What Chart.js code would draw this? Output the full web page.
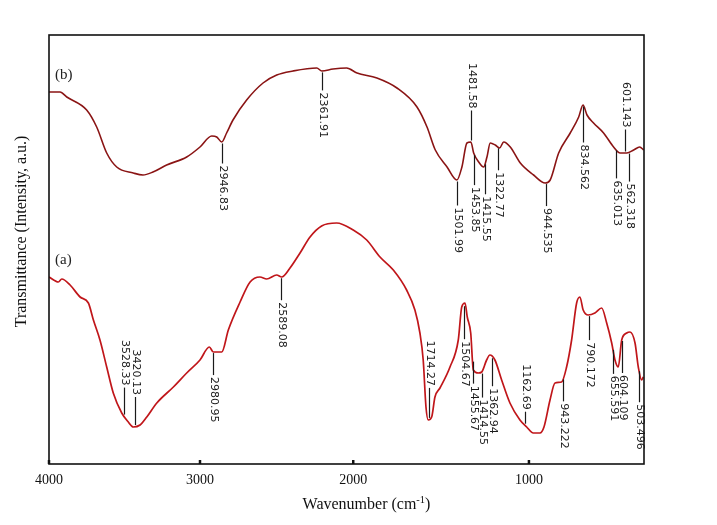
<!DOCTYPE html>
<html>
<head>
<meta charset="utf-8">
<script src="https://cdn.jsdelivr.net/npm/chart.js@4.4.1/dist/chart.umd.min.js"></script>
<style>
  html, body { margin: 0; padding: 0; background: #fff; }
  #wrap { width: 717px; height: 525px; }
</style>
</head>
<body>
<div id="wrap"><canvas id="ftir" width="717" height="525"></canvas></div>
<script>
// FT-IR spectra: wavenumber (cm-1) / transmittance (a.u.)
const waveB = [3918, 3854, 3815, 3700, 3642, 3584, 3526, 3430, 3374, 3316, 3237, 3121, 3044, 2976, 2947,
  2918, 2890, 2853, 2774, 2679, 2600, 2506, 2368, 2339, 2274, 2195, 2135, 2020, 1904, 1788, 1730, 1682,
  1614, 1557, 1528, 1499, 1476, 1460, 1431, 1402, 1383, 1364, 1335, 1310, 1286, 1248, 1190, 1113, 1046,
  1017, 968, 901, 852, 827, 804, 766, 708, 650, 612, 573, 534, 499, 476];
const transB = [372, 372, 367, 354, 337, 311, 297, 291, 289, 292, 299, 307, 317, 328, 327,
  322, 331, 344, 364, 381, 389, 393, 396, 393, 395, 396, 391, 386, 376, 357, 337, 314,
  297, 284, 297, 321, 322, 311, 302, 297, 307, 321, 319, 316, 322, 317, 301, 289, 281,
  284, 311, 331, 347, 359, 349, 341, 331, 317, 311, 311, 314, 317, 314];

const waveA = [3918, 3864, 3844, 3796, 3738, 3690, 3661, 3623, 3584, 3546, 3497, 3459, 3430, 3391, 3352,
  3294, 3198, 3121, 3044, 2990, 2967, 2918, 2880, 2812, 2754, 2697, 2658, 2600, 2571, 2523, 2465, 2407,
  2340, 2253, 2157, 2079, 2002, 1925, 1848, 1800, 1771, 1752, 1736, 1723, 1703, 1684, 1655, 1597, 1549,
  1529, 1510, 1497, 1477, 1462, 1433, 1413, 1385, 1366, 1337, 1298, 1250, 1192, 1153, 1115, 1076, 1053,
  1018, 989, 951, 922, 893, 864, 845, 826, 797, 758, 719, 690, 661, 642, 623, 603, 574, 555, 526, 507, 488, 478];
const transA = [187, 182, 185, 179, 167, 161, 144, 124, 97, 71, 51, 42, 37, 39, 47,
  61, 77, 91, 104, 117, 112, 112, 134, 162, 182, 187, 185, 189, 187, 196, 211, 227,
  238, 241, 234, 224, 207, 194, 174, 154, 131, 104, 57, 44, 47, 67, 76, 97, 124,
  157, 161, 147, 131, 94, 91, 92, 104, 109, 104, 84, 61, 44, 37, 31, 31, 37,
  64, 81, 82, 97, 124, 161, 167, 154, 149, 151, 156, 141, 121, 104, 97, 124, 131, 132, 121, 97, 84, 87];

const seriesNames = ['(b)', '(a)'];

// peak marks: [label, wavenumber where the mark sits, label side]
const peaksB = [
  ['2946.83', 2918, 'down'], ['2361.91', 2340, 'down'], ['1481.58', 1476, 'up'],
  ['1501.99', 1557, 'down'], ['1453.85', 1458, 'down'], ['1415.55', 1394, 'down'],
  ['1322.77', 1320, 'down'], ['944.535', 1042, 'down'], ['834.562', 827, 'down'],
  ['601.143', 584, 'up'], ['635.013', 638, 'down'], ['562.318', 561, 'down'],
];
const peaksA = [
  ['3528.33', 3484, 'up'], ['3420.13', 3420, 'up'], ['2980.95', 2969, 'down'],
  ['2589.08', 2575, 'down'], ['1714.27', 1719, 'up'], ['1504.67', 1518, 'down'],
  ['1455.67', 1466, 'down'], ['1414.55', 1414, 'down'], ['1362.94', 1356, 'down'],
  ['1162.69', 1163, 'up'], ['943.222', 943, 'down'], ['790.172', 790, 'down'],
  ['655.591', 655, 'down'], ['604.109', 601, 'down'], ['503.496', 503, 'down'],
];

// axis labels as printed, and where they sit on the wavenumber scale
const tickLabels = ['4000', '3000', '2000', '1000'];
const tickAt = [3918, 3044, 2157, 1140];

// leader line lengths (px) that differ from the default
const LEADS = {
  '2946.83': 20, '2361.91': 18, '1481.58': 30, '1501.99': 24, '1453.85': 30, '1415.55': 30,
  '834.562': 36, '635.013': 28, '562.318': 28, '3528.33': 27, '3420.13': 28, '1714.27': 30,
  '1504.67': 33, '1414.55': 24, '1362.94': 28, '1162.69': 12, '790.172': 24, '655.591': 24,
  '604.109': 32, '503.496': 31,
};
const SERIF = '"Liberation Serif", "DejaVu Serif", serif';

function valueAt(ws, ts, w) {
  for (let i = 0; i < ws.length - 1; i++) {
    if (w <= ws[i] && w >= ws[i + 1]) {
      const f = (ws[i] - w) / (ws[i] - ws[i + 1]);
      return ts[i] + f * (ts[i + 1] - ts[i]);
    }
  }
  return ts[ts.length - 1];
}

const decor = {
  id: 'ftirDecor',
  afterDatasetsDraw(chart) {
    const { ctx: c, chartArea: { left, right, top, bottom }, scales: { x, y } } = chart;
    c.save();

    // frame + inward ticks
    c.strokeStyle = '#111';
    c.lineWidth = 1.6;
    c.strokeRect(left, top, right - left, bottom - top);
    c.lineWidth = 2.5;
    tickAt.forEach(v => {
      const px = x.getPixelForValue(v);
      c.beginPath();
      c.moveTo(px, bottom);
      c.lineTo(px, bottom - 4);
      c.stroke();
    });

    // peak marks
    c.font = '11px "DejaVu Sans", sans-serif';
    c.fillStyle = '#1a1a1a';
    c.strokeStyle = '#1a1a1a';
    c.lineWidth = 1.2;
    const marks = (peaks, ws, ts) => peaks.forEach(([label, w, side]) => {
      const px = Math.round(x.getPixelForValue(w)) + 0.5;
      const py = y.getPixelForValue(valueAt(ws, ts, w));
      const dir = side === 'up' ? -1 : 1;
      const lead = LEADS[label] ?? 22;
      const y0 = py + dir * 1.5;
      const y1 = y0 + dir * lead;
      c.beginPath();
      c.moveTo(px, y0);
      c.lineTo(px, y1);
      c.stroke();
      c.save();
      c.translate(px, y1 + dir * 2);
      c.rotate(Math.PI / 2);
      c.textAlign = side === 'up' ? 'right' : 'left';
      c.textBaseline = 'middle';
      c.fillText(label, 0, 0);
      c.restore();
    });
    marks(peaksB, waveB, transB);
    marks(peaksA, waveA, transA);

    // series tags
    c.font = '15px ' + SERIF;
    c.fillStyle = '#222';
    c.textAlign = 'left';
    c.textBaseline = 'middle';
    c.fillText(seriesNames[0], left + 6, y.getPixelForValue(transB[0]) - 17);
    c.fillText(seriesNames[1], left + 6, y.getPixelForValue(transA[0]) - 17);

    // x title with superscript
    const base = 'Wavenumber (cm';
    c.font = '16px ' + SERIF;
    const wBase = c.measureText(base).width;
    c.font = '10.5px ' + SERIF;
    const wSup = c.measureText('-1').width;
    c.font = '16px ' + SERIF;
    const wEnd = c.measureText(')').width;
    let tx = (left + right) / 2 + 20 - (wBase + wSup + wEnd) / 2;
    const ty = bottom + 41;
    c.fillStyle = '#111';
    c.fillText(base, tx, ty);
    tx += wBase;
    c.font = '10.5px ' + SERIF;
    c.fillText('-1', tx, ty - 5);
    tx += wSup;
    c.font = '16px ' + SERIF;
    c.fillText(')', tx, ty);

    // y title
    c.save();
    c.translate(left - 27, (top + bottom) / 2 - 18);
    c.rotate(-Math.PI / 2);
    c.textAlign = 'center';
    c.font = '16px ' + SERIF;
    c.fillText('Transmittance (Intensity, a.u.)', 0, 0);
    c.restore();

    c.restore();
  }
};

new Chart(document.getElementById('ftir'), {
  type: 'line',
  data: {
    datasets: [
      {
        label: seriesNames[0],
        data: waveB.map((w, i) => ({ x: w, y: transB[i] })),
        borderColor: '#8a1414',
        borderWidth: 1.6,
        pointRadius: 0,
        cubicInterpolationMode: 'monotone',
      },
      {
        label: seriesNames[1],
        data: waveA.map((w, i) => ({ x: w, y: transA[i] })),
        borderColor: '#c0161a',
        borderWidth: 1.7,
        pointRadius: 0,
        cubicInterpolationMode: 'monotone',
      }
    ]
  },
  options: {
    responsive: false,
    animation: false,
    layout: { padding: { top: 35, right: 73, left: 0, bottom: 0 } },
    plugins: { legend: { display: false }, tooltip: { enabled: false } },
    scales: {
      x: {
        type: 'linear',
        reverse: true,
        min: 474,
        max: 3918,
        afterBuildTicks(scale) { scale.ticks = tickAt.map(v => ({ value: v })); },
        afterFit(scale) { scale.height = 61; },
        ticks: {
          autoSkip: false,
          maxRotation: 0,
          padding: 8,
          color: '#111',
          font: { size: 14, family: SERIF },
          callback: (v, i) => tickLabels[i],
        },
        grid: { display: false, drawTicks: false },
        border: { display: false },
      },
      y: {
        min: 0,
        max: 429,
        afterFit(scale) { scale.width = 49; },
        ticks: { display: false },
        grid: { display: false, drawTicks: false },
        border: { display: false },
      }
    }
  },
  plugins: [decor]
});
</script>
</body>
</html>
